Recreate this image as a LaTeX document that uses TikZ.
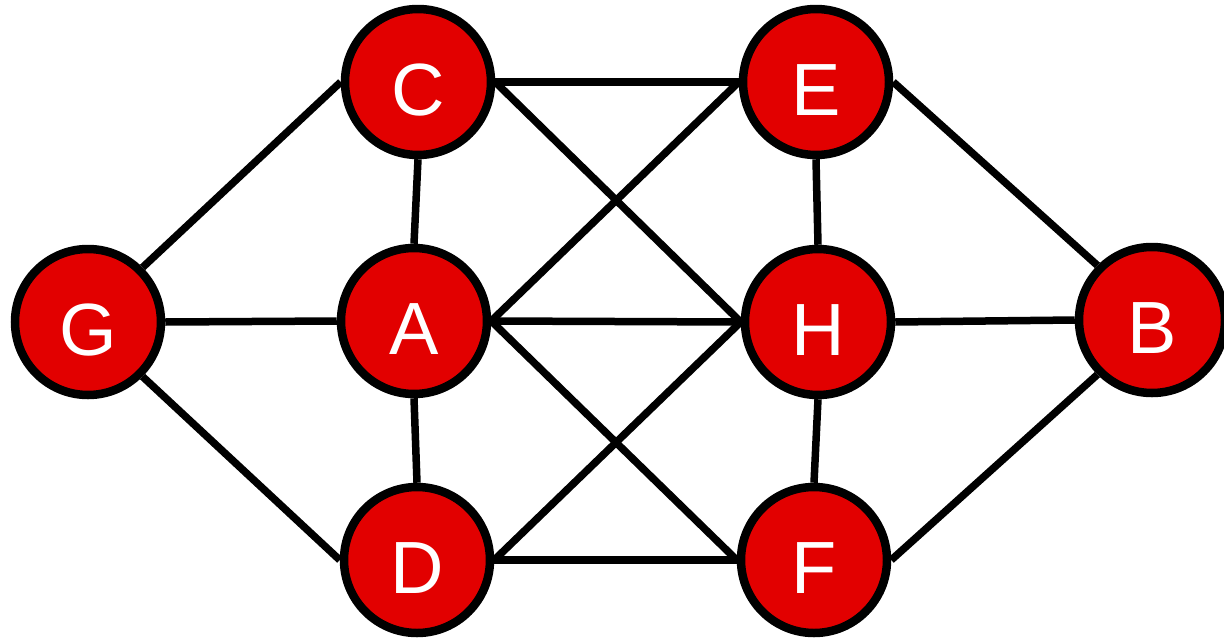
\documentclass[tikz,border=0pt]{standalone}
\usepackage{fontspec}
\setmainfont{Liberation Sans}
\usetikzlibrary{backgrounds}
\definecolor{vred}{RGB}{226,0,0}
\begin{document}
\begin{tikzpicture}[x=1pt,y=-1pt,
  vertex/.style={circle,draw=black,line width=8.5pt,fill=vred,text=white,
    minimum size=146pt,inner sep=0pt,text height=67pt,text depth=0pt,
    font=\fontsize{74}{74}\selectfont},
  edge/.style={draw=black,line width=7.5pt}]
\useasboundingbox (0,0) rectangle (1224,643);
% vertices
\node[vertex] (C) at (418,82)  {C};
\node[vertex] (E) at (816,82)  {E};
\node[vertex] (G) at (88,322)  {G};
\node[vertex] (A) at (414,321) {A};
\node[vertex] (H) at (818,322) {H};
\node[vertex] (B) at (1152,320) {B};
\node[vertex] (D) at (417,560) {D};
\node[vertex] (F) at (814,560) {F};
% edges, kept behind the vertices
\begin{scope}[on background layer]
  \path[edge] (C.east) -- (E.west);
  \path[edge] (C.south) -- (A.north);
  \path[edge] (G.north east) -- (C.west);
  \path[edge] (C.east) -- (H.west);
  \path[edge] (A.east) -- (E.west);
  \path[edge] (E.south) -- (H.north);
  \path[edge] (E.east) -- (B.north west);
  \path[edge] (G.east) -- (A.west);
  \path[edge] (G.south east) -- (D.west);
  \path[edge] (A.east) -- (H.west);
  \path[edge] (A.south) -- (D.north);
  \path[edge] (A.east) -- (F.west);
  \path[edge] (D.east) -- (H.west);
  \path[edge] (D.east) -- (F.west);
  \path[edge] (H.east) -- (B.west);
  \path[edge] (H.south) -- (F.north);
  \path[edge] (F.east) -- (B.south west);
\end{scope}
\end{tikzpicture}
\end{document}
